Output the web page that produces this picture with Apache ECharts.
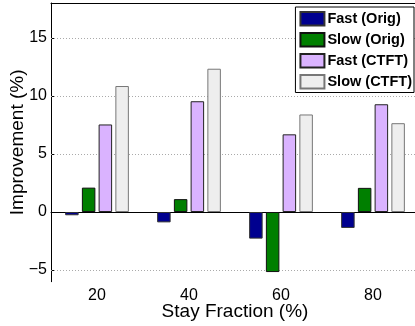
<!DOCTYPE html>
<html><head><meta charset="utf-8">
<script src="https://cdn.jsdelivr.net/npm/echarts@6/dist/echarts.min.js"></script>
<style>html,body{margin:0;padding:0;background:#fff}#c{width:415px;height:326px}</style>
</head><body><div id="c"></div>
<script>
const categories = ['20', '40', '60', '80'];
const fastOrig = [-0.28, -0.89, -2.29, -1.37];
const slowOrig = [2.1, 1.11, -5.17, 2.08];
const fastCTFT = [7.54, 9.54, 6.69, 9.28];
const slowCTFT = [10.85, 12.34, 8.4, 7.65];
const seriesNames = ['Fast (Orig)', 'Slow (Orig)', 'Fast (CTFT)', 'Slow (CTFT)'];
const yTicks = [-5, 0, 5, 10, 15];
const gridValues = [-5, 5, 10, 15];

const font = 'Liberation Sans, Arial, Helvetica, sans-serif';
const chart = echarts.init(document.getElementById('c'), null, {renderer: 'canvas'});
const styles = [
  {color: '#00008f', borderColor: '#333', borderWidth: 1},
  {color: '#007f00', borderColor: '#111', borderWidth: 1},
  {color: '#dab3ff', borderColor: '#222', borderWidth: 1},
  {color: '#eeeeee', borderColor: '#777', borderWidth: 1}
];
const datas = [fastOrig, slowOrig, fastCTFT, slowCTFT];
const series = datas.map((d, i) => ({
  name: seriesNames[i], type: 'bar', data: d,
  barWidth: 13.5, barGap: '24%',
  itemStyle: styles[i], animation: false
}));
series[0].markLine = {
  silent: true, symbol: 'none', animation: false, label: {show: false}, z: 1,
  data: gridValues.map(v => ({yAxis: v, lineStyle: {color: '#aaa', type: [1, 2], width: 1}}))
    .concat([{yAxis: 0, lineStyle: {color: '#000', type: 'solid', width: 1}}])
};
chart.setOption({
  animation: false,
  textStyle: {fontFamily: font},
  grid: {left: 51, top: 3, width: 368, height: 278.7, outerBoundsMode: 'none', containLabel: false},
  legend: {
    right: 1, top: 7, orient: 'vertical', itemWidth: 24, itemHeight: 13.5, itemGap: 5.5, z: 20,
    padding: [4, 2, 3, 4], borderColor: '#000', borderWidth: 1, backgroundColor: '#fff',
    textStyle: {fontFamily: font, fontWeight: 'bold', fontSize: 14.5, color: '#000', padding: [0, 0, 0, -2]},
    icon: 'rect', data: seriesNames
  },
  xAxis: [{
    type: 'category', data: categories, position: 'bottom',
    axisLine: {lineStyle: {color: '#000', width: 1}},
    axisTick: {inside: true, alignWithLabel: true, length: 4, lineStyle: {color: '#000'}},
    axisLabel: {fontSize: 16, color: '#000', margin: 6, fontFamily: font},
    name: 'Stay Fraction (%)', nameLocation: 'middle', nameGap: 21, nameMoveOverlap: false,
    nameTextStyle: {fontSize: 19, color: '#000', fontFamily: font}
  }, {
    type: 'category', data: categories, position: 'top',
    axisLine: {lineStyle: {color: '#000', width: 1}},
    axisTick: {inside: true, alignWithLabel: true, length: 4, lineStyle: {color: '#000'}},
    axisLabel: {show: false}
  }],
  yAxis: {
    type: 'value', min: -6, max: 18,
    axisLine: {show: true, lineStyle: {color: '#000', width: 1}},
    axisTick: {show: true, inside: true, length: 4, customValues: yTicks, lineStyle: {color: '#000'}},
    axisLabel: {customValues: yTicks, fontSize: 16, color: '#000', margin: 4, fontFamily: font,
      formatter: v => v < 0 ? '\u2212' + (-v) : String(v)},
    splitLine: {show: false},
    name: 'Improvement (%)', nameLocation: 'middle', nameGap: 24, nameMoveOverlap: false,
    nameTextStyle: {fontSize: 19, color: '#000', fontFamily: font}
  },
  series: series
});
</script></body></html>
